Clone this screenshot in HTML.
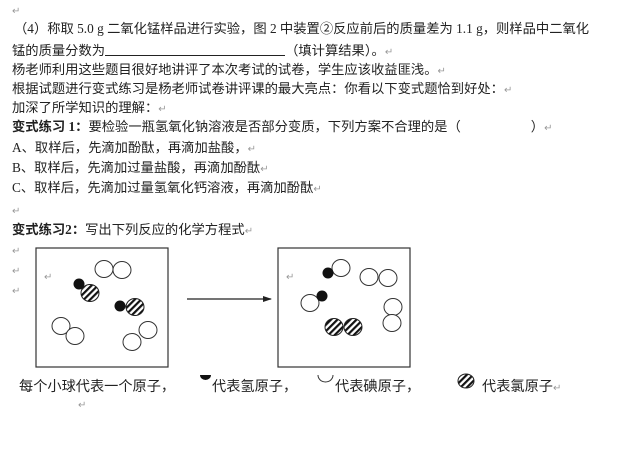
<!DOCTYPE html>
<html><head><meta charset="utf-8"><style>
body{margin:0;background:#fff;}
#p{position:relative;width:630px;height:468px;overflow:hidden;font-family:"Liberation Serif","Noto Sans CJK SC",sans-serif;font-size:13.3px;color:#222;}
.l{position:absolute;left:12px;white-space:nowrap;line-height:16px;}
.r{color:#999;font-size:10px;}
b{font-weight:bold;}
svg{position:absolute;left:0;top:0;}
.lg{font-size:14.2px;line-height:18px;}
</style></head><body><div id="p">
<div class="l" style="top:2px"><span class="r">↵</span></div>
<div class="l" style="top:21px;left:14px">（4）称取 5.0 g 二氧化锰样品进行实验，图 2 中装置②反应前后的质量差为 1.1 g，则样品中二氧化</div>
<div class="l" style="top:42px">锰的质量分数为<span style="display:inline-block;width:180px;border-bottom:1px solid #222;height:13px;vertical-align:-1px"></span>（填计算结果）。<span class="r">↵</span></div>
<div class="l" style="top:62px">杨老师利用这些题目很好地讲评了本次考试的试卷，学生应该收益匪浅。<span class="r">↵</span></div>
<div class="l" style="top:81px">根据试题进行变式练习是杨老师试卷讲评课的最大亮点：你看以下变式题恰到好处：<span class="r">↵</span></div>
<div class="l" style="top:100px">加深了所学知识的理解：<span class="r">↵</span></div>
<div class="l" style="top:119px"><b>变式练习 1：</b>要检验一瓶氢氧化钠溶液是否部分变质，下列方案不合理的是（<span style="display:inline-block;width:70px"></span>）<span class="r">↵</span></div>
<div class="l" style="top:140px">A、取样后，先滴加酚酞，再滴加盐酸，<span class="r">↵</span></div>
<div class="l" style="top:160px">B、取样后，先滴加过量盐酸，再滴加酚酞<span class="r">↵</span></div>
<div class="l" style="top:180px">C、取样后，先滴加过量氢氧化钙溶液，再滴加酚酞<span class="r">↵</span></div>
<div class="l" style="top:202px"><span class="r">↵</span></div>
<div class="l" style="top:222px"><b>变式练习2：</b>写出下列反应的化学方程式<span class="r">↵</span></div>
<div class="l" style="top:242px;left:12px"><span class="r">↵</span></div>
<div class="l" style="top:262px;left:12px"><span class="r">↵</span></div>
<div class="l" style="top:282px;left:12px"><span class="r">↵</span></div>
<div class="l" style="top:268px;left:44px"><span class="r">↵</span></div>
<div class="l" style="top:268px;left:286px"><span class="r">↵</span></div>
<svg width="630" height="468">
<defs>
<pattern id="h" width="4.5" height="4.5" patternUnits="userSpaceOnUse" patternTransform="rotate(45)">
<rect width="2.2" height="4.5" fill="#111"/>
</pattern>
<marker id="a" markerWidth="9" markerHeight="8" refX="8" refY="4" orient="auto" markerUnits="userSpaceOnUse"><path d="M0,1 L9,4 L0,7z" fill="#222"/></marker>
</defs>
<g fill="none" stroke="#333" stroke-width="1.2">
<rect x="36" y="248" width="132" height="119"/>
<rect x="278" y="248" width="132" height="119"/>
</g>
<line x1="187" y1="299" x2="271" y2="299" stroke="#222" stroke-width="1.3" marker-end="url(#a)"/>
<g fill="#fff" stroke="#333" stroke-width="1">
<ellipse cx="104" cy="269" rx="9" ry="8.5"/><ellipse cx="122" cy="270" rx="9" ry="8.5"/>
<ellipse cx="61" cy="326" rx="9" ry="8.5"/><ellipse cx="75" cy="336" rx="9" ry="8.5"/>
<ellipse cx="148" cy="330" rx="9" ry="8.5"/><ellipse cx="132" cy="342" rx="9" ry="8.5"/>
<ellipse cx="341" cy="268" rx="9" ry="8.5"/>
<ellipse cx="369" cy="277" rx="9" ry="8.5"/><ellipse cx="388" cy="278" rx="9" ry="8.5"/>
<ellipse cx="310" cy="303" rx="9" ry="8.5"/>
<ellipse cx="393" cy="307" rx="9" ry="8.5"/><ellipse cx="392" cy="323" rx="9" ry="8.5"/>
</g>
<g fill="url(#h)" stroke="#222" stroke-width="1">
<ellipse cx="90" cy="293" rx="9" ry="8.5"/><ellipse cx="135" cy="307" rx="9" ry="8.5"/>
<ellipse cx="334" cy="327" rx="9" ry="8.5"/><ellipse cx="353" cy="327" rx="9" ry="8.5"/>
<ellipse cx="466" cy="381" rx="8" ry="7"/>
</g>
<g fill="#111">
<ellipse cx="79" cy="284" rx="5.5" ry="5.5"/><ellipse cx="120" cy="306" rx="5.5" ry="5.5"/>
<ellipse cx="328" cy="273" rx="5.5" ry="5.5"/><ellipse cx="322" cy="296" rx="5.5" ry="5.5"/>
<path d="M200,375 A5.5,5 0 0 0 211,375 Z"/>
</g>
<path d="M318,375 A7.5,7 0 0 0 333,375" fill="none" stroke="#333" stroke-width="1"/>
</svg>
<div class="l lg" style="top:378px;left:19px">每个小球代表一个原子，</div>
<div class="l lg" style="top:378px;left:212px">代表氢原子，</div>
<div class="l lg" style="top:378px;left:335px">代表碘原子，</div>
<div class="l lg" style="top:378px;left:482px">代表氯原子<span class="r">↵</span></div>
<div class="l" style="top:396px;left:78px"><span class="r">↵</span></div>
</div></body></html>
